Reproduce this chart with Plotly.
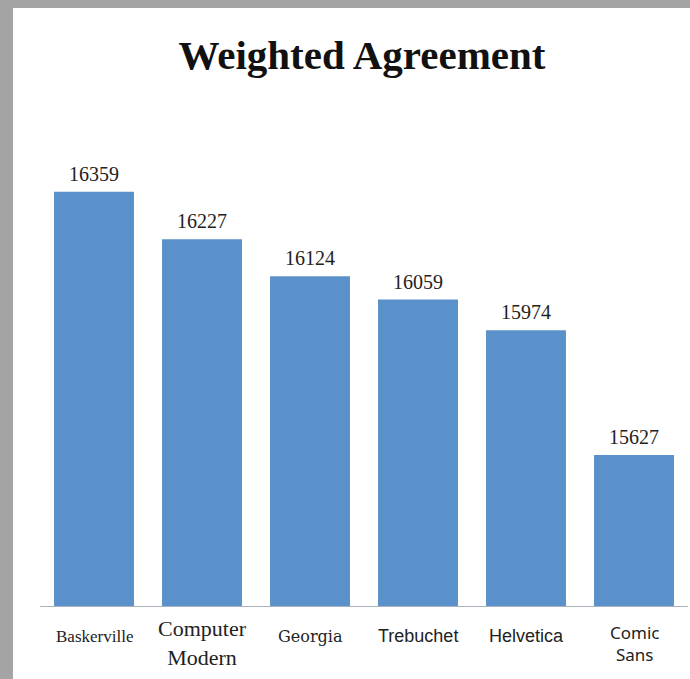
import plotly.graph_objects as go

categories = ["Baskerville", "Computer Modern", "Georgia", "Trebuchet", "Helvetica", "Comic Sans"]
tick_labels = ["Baskerville", "Computer<br>Modern", "Georgia", "Trebuchet", "Helvetica", "Comic<br>Sans"]
values = [16359, 16227, 16124, 16059, 15974, 15627]
label_fonts = ["Liberation Serif", "Liberation Serif", "DejaVu Serif", "Liberation Sans", "Liberation Sans", "Noto Sans"]
label_sizes = [17, 22, 16, 18, 18, 17]

W, H = 690, 679
L, R, T, B = 40, 2, 177, 73
pw, ph = W - L - R, H - T - B

fig = go.Figure()
fig.add_trace(go.Bar(x=categories, y=values, marker=dict(color="#5b91cb", line=dict(width=0)),
                     hoverinfo="skip"))

annotations = []
for c, v in zip(categories, values):
    annotations.append(dict(x=c, y=v, xref="x", yref="y", text=str(v), showarrow=False,
                            yanchor="bottom", yshift=5,
                            font=dict(family="Liberation Serif", size=20, color="#222222")))
for c, t, f, s in zip(categories, tick_labels, label_fonts, label_sizes):
    two = "<br>" in t
    annotations.append(dict(x=c, y=0, xref="x", yref="paper", text=t, showarrow=False,
                            yanchor="middle", yshift=-37 if two else -30,
                            font=dict(family=f, size=s, color="#222222")))

def px_x(p):
    return (p - L) / pw

def px_y(p):
    return (H - B - p) / ph

shapes = [
    dict(type="rect", xref="paper", yref="paper", x0=px_x(0), x1=px_x(13), y0=px_y(H), y1=px_y(0),
         fillcolor="#a4a4a4", line=dict(width=0), layer="above"),
    dict(type="rect", xref="paper", yref="paper", x0=px_x(0), x1=px_x(W), y0=px_y(8), y1=px_y(0),
         fillcolor="#a4a4a4", line=dict(width=0), layer="above"),
]

fig.update_layout(
    width=W, height=H,
    margin=dict(l=L, r=R, t=T, b=B),
    paper_bgcolor="white", plot_bgcolor="white",
    bargap=0.26,
    showlegend=False,
    title=dict(text="<b>Weighted Agreement</b>", x=px_x(362), xref="paper", xanchor="center",
               y=1 - 55 / H, yref="container", yanchor="middle",
               font=dict(family="Liberation Serif", size=41, color="#111111")),
    xaxis=dict(showticklabels=False, ticks="", showgrid=False, zeroline=False,
               showline=True, linecolor="#a9b0bb", linewidth=1),
    yaxis=dict(range=[15207, 16400], visible=False, showgrid=False),
    annotations=annotations,
    shapes=shapes,
)

fig.write_html("out.html", config={"displayModeBar": False},
               post_script="document.body.style.margin='0';document.body.style.overflow='hidden';")
